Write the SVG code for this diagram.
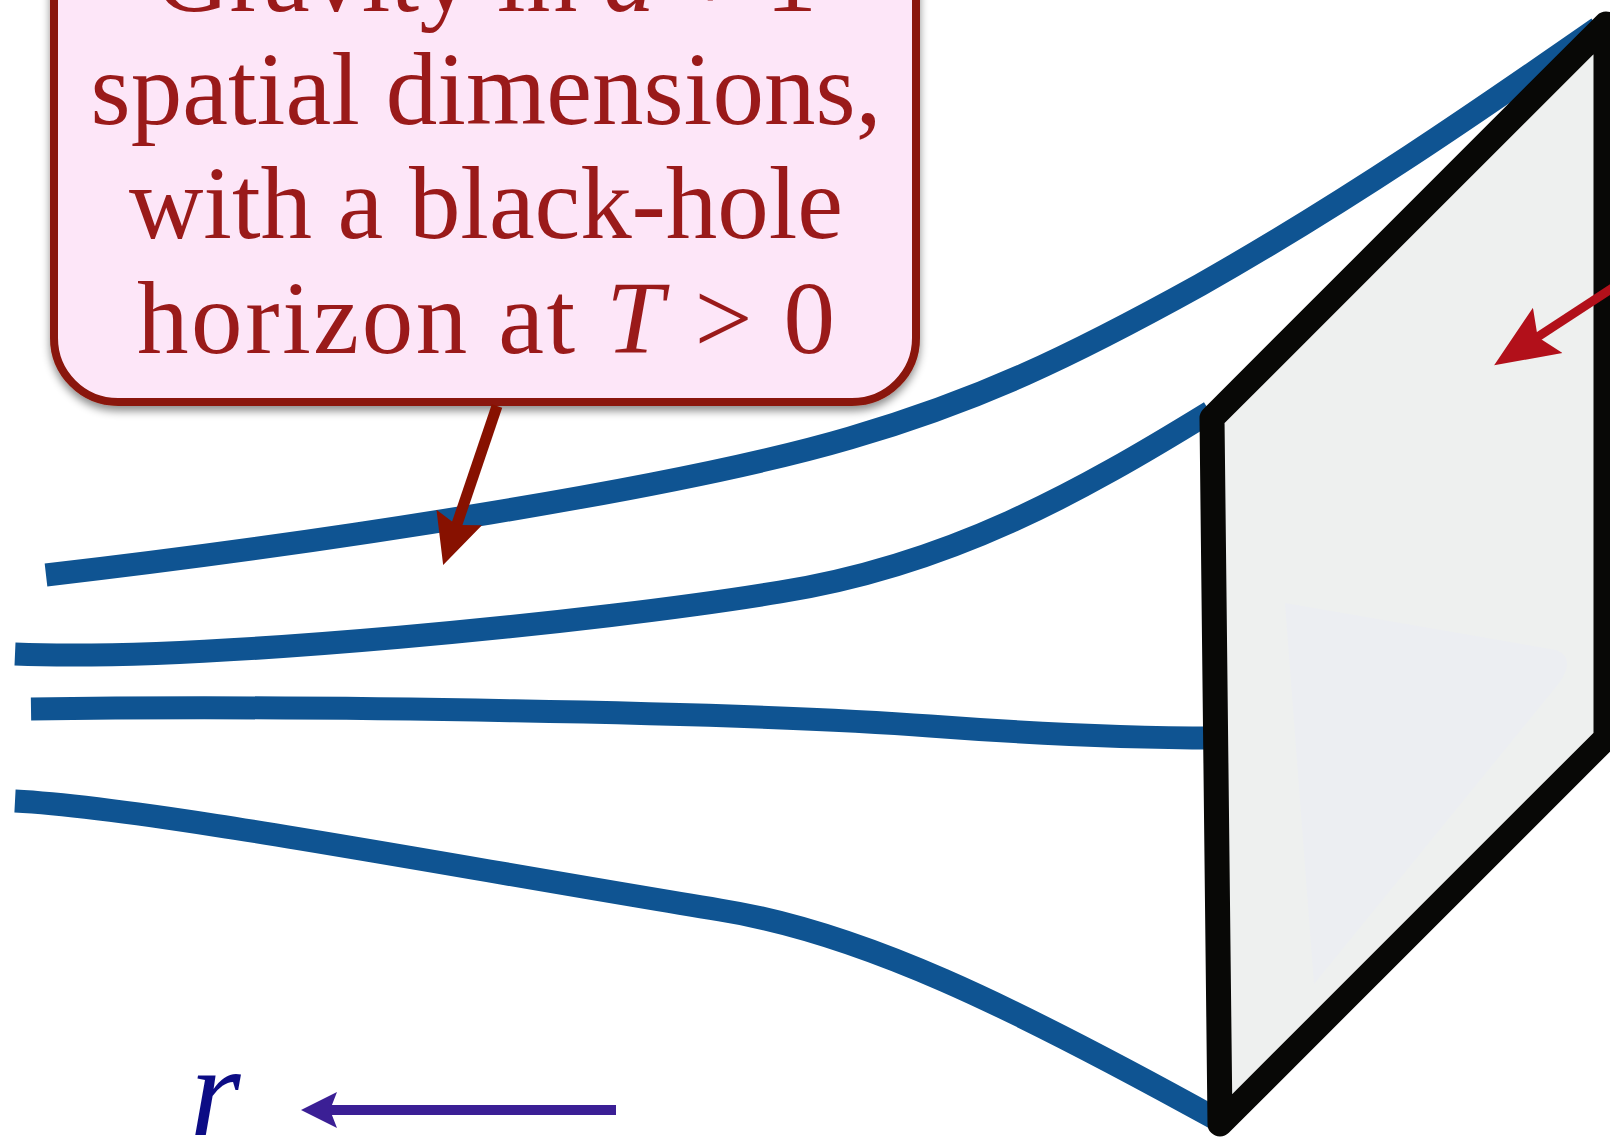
<svg xmlns="http://www.w3.org/2000/svg" width="1610" height="1142" viewBox="0 0 1610 1142">
<defs>
<style>
.curve{fill:none;stroke:#0f5492;stroke-width:23;stroke-linecap:butt}
.boxtext{font-family:"Liberation Serif","Times New Roman",serif;font-size:103px;fill:#9a1a1a;text-anchor:middle}
.it{font-style:italic}
</style>
<filter id="shadow" x="-10%" y="-10%" width="120%" height="130%">
<feDropShadow dx="0" dy="5" stdDeviation="4" flood-color="#000" flood-opacity="0.45"/>
</filter>
<marker id="mDark" markerUnits="userSpaceOnUse" viewBox="0 -27 54 54" markerWidth="54" markerHeight="54" refX="10" refY="0" orient="auto">
<path d="M0,-24 L50,0 L0,24 L8,0 Z" fill="#871100"/>
</marker>
<marker id="mRed" markerUnits="userSpaceOnUse" viewBox="0 -30 70 60" markerWidth="70" markerHeight="60" refX="14" refY="0" orient="auto">
<path d="M0,-27 L64,0 L0,27 L12,0 Z" fill="#b2101a"/>
</marker>
<marker id="mBlue" markerUnits="userSpaceOnUse" viewBox="0 -20 40 40" markerWidth="40" markerHeight="40" refX="9" refY="0" orient="auto">
<path d="M0,-18 L36,0 L0,18 L7,0 Z" fill="#3b1f95"/>
</marker>
</defs>
<rect width="1610" height="1142" fill="#ffffff"/>

<g id="sheets">
<path class="curve" d="M46,575 C330,542 680,488 850,438 C980,400 1070,357 1200,285 C1350,200 1480,110 1598,28"/>
<path class="curve" d="M15,654 C200,662 600,622 780,592 C950,565 1080,492 1210,412"/>
<path class="curve" d="M31,709 C300,705 750,712 930,726 C1050,735 1130,738 1215,738"/>
<path class="curve" d="M15,801 C150,808 450,866 720,910 C860,932 1010,1005 1218,1120"/>
</g>

<g id="boundary">
<polygon points="1212,418 1606,24 1606,738 1220,1124" fill="#eef0ef" stroke="#080806" stroke-width="25" stroke-linejoin="round"/>
<path d="M1285,603 L1556,650 Q1576,658 1560,682 L1314,984 Z" fill="#eceef2"/>
</g>

<g id="bulk-label">
<rect x="54" y="-120" width="862" height="522" rx="64" ry="64" fill="#fde6f8" stroke="#8a1508" stroke-width="8" filter="url(#shadow)"/>
<text class="boxtext" x="486" y="11" textLength="662" lengthAdjust="spacing">Gravity in <tspan class="it">d</tspan> + 1</text>
<text class="boxtext" x="486" y="124" textLength="791" lengthAdjust="spacing">spatial dimensions,</text>
<text class="boxtext" x="486" y="238" textLength="714" lengthAdjust="spacing">with a black-hole</text>
<text class="boxtext" x="486" y="353" textLength="698" lengthAdjust="spacing">horizon at <tspan class="it">T</tspan> &gt; 0</text>
</g>

<g id="r-label">
<text x="190" y="1135" font-family="Liberation Serif, Times New Roman, serif" font-style="italic" font-size="130" fill="#0c0c85">r</text>
</g>

<g id="connectors">
<line x1="497" y1="406" x2="456" y2="527" stroke="#871100" stroke-width="11" marker-end="url(#mDark)"/>
<line x1="1614" y1="287" x2="1536" y2="338" stroke="#b2101a" stroke-width="9" marker-end="url(#mRed)"/>
<line x1="616" y1="1110" x2="328" y2="1110" stroke="#3b1f95" stroke-width="10" marker-end="url(#mBlue)"/>
</g>
</svg>
